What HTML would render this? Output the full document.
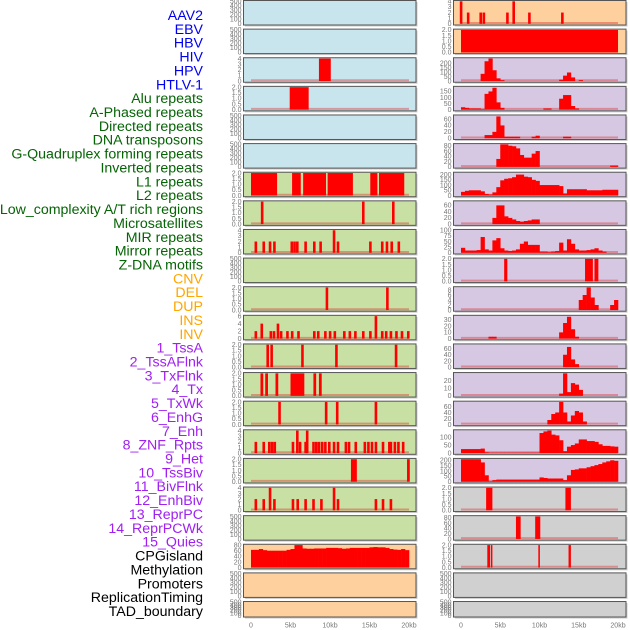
<!DOCTYPE html>
<html><head><meta charset="utf-8"><style>
html,body{margin:0;padding:0;background:#fff;}
svg{display:block;}
.lab{font-family:"Liberation Sans",sans-serif;font-size:14.2px;}
.tk{font-family:"Liberation Sans",sans-serif;font-size:7px;fill:#777;}
</style></head><body>
<svg id="chart" width="630" height="630" viewBox="0 0 630 630"></svg>
<script>
// ---- labels ----
const labelNames = ["AAV2","EBV","HBV","HIV","HPV","HTLV-1","Alu repeats","A-Phased repeats","Directed repeats","DNA transposons","G-Quadruplex forming repeats","Inverted repeats","L1 repeats","L2 repeats","Low_complexity A/T rich regions","Microsatellites","MIR repeats","Mirror repeats","Z-DNA motifs","CNV","DEL","DUP","INS","INV","1_TssA","2_TssAFlnk","3_TxFlnk","4_Tx","5_TxWk","6_EnhG","7_Enh","8_ZNF_Rpts","9_Het","10_TssBiv","11_BivFlnk","12_EnhBiv","13_ReprPC","14_ReprPCWk","15_Quies","CPGisland","Methylation","Promoters","ReplicationTiming","TAD_boundary"];
const labelGroups = [0,0,0,0,0,0,1,1,1,1,1,1,1,1,1,1,1,1,1,2,2,2,2,2,3,3,3,3,3,3,3,3,3,3,3,3,3,3,3,4,4,4,4,4];
const groupColors = ["#0000f0","#056405","#ffa500","#a020f0","#000000"];
const xTickLabels = ["0","5kb","10kb","15kb","20kb"];
const xTickValues = [0,5000,10000,15000,20000];

// ---- tick sets ----
const T500=[0,100,200,300,400,500], T2=["0.0","0.5","1.0","1.5","2.0"], T4=[0,1,2,3,4];

// ---- left column data: blocks [startKb,endKb,value], spikes [kb,value] ----
const L02_blocks=[[8.6,10.1,4]];
const L03_blocks=[[4.9,7.3,2]];
const L06_blocks=[[0,3.3,2],[5.2,6.3,2],[6.6,9.5,2],[9.7,12.9,2],[15.1,16.0,2],[16.2,19.4,2]];
const L07_spikes=[[1.4,2],[14.2,2],[18.0,2]];
const L08_spikes=[[0.6,2],[1.6,2],[2.4,2],[2.95,2],[5.15,2],[5.5,2],[5.85,2],[6.9,2],[8.0,2],[8.8,2],[10.5,4],[11.0,2],[15.1,2],[16.6,2],[17.2,2],[17.8,2],[18.7,2]];
const L10_spikes=[[9.6,2],[17.25,2]];
const L11_spikes=[[0.6,2],[1.35,4],[2.5,2],[2.9,2],[3.4,4],[3.8,2],[4.6,2],[5.2,2],[6.0,2],[8.0,2],[8.5,2],[9.4,2],[10.0,2],[10.6,2],[11.8,2],[12.5,2],[13.2,2],[14.2,2],[15.1,2],[15.8,6],[16.6,2],[17.1,2],[17.7,2],[18.4,2],[19.1,2],[19.9,2]];
const L12_spikes=[[2.1,2],[2.6,2],[6.5,2],[10.8,2],[18.35,2]];
const L13_blocks=[[1.2,1.55,2],[1.8,2.15,2],[3.1,3.45,2],[5.0,6.75,2],[7.9,8.25,2],[8.6,8.95,2]];
const L14_spikes=[[3.6,2],[9.5,2],[10.9,2],[15.8,2]];
const L15_spikes=[[0.6,2],[1.6,2],[2.3,2],[2.65,2],[3.0,2],[5.3,2],[5.85,4],[6.2,2],[6.9,2],[7.1,4],[7.9,2],[8.25,2],[8.6,2],[9.0,2],[9.4,2],[9.9,2],[10.5,2],[11.0,2],[12.0,2],[12.4,2],[13.25,2],[14.4,2],[14.85,2],[15.3,2],[15.8,2],[16.7,2],[17.5,2],[17.7,2],[18.2,2],[18.65,2],[19.25,2]];
const L16_blocks=[[12.65,13.4,2],[19.75,20.1,2]];
const L17_spikes=[[0.6,2],[1.6,2],[2.4,4],[2.95,2],[5.3,2],[5.9,2],[6.9,2],[7.9,2],[8.9,2],[10.5,4],[11.0,2],[15.8,2],[16.7,2],[17.7,2]];
const L19_bins=[63,63,66,62,60,60,60,60,60,63,66,80,80,68,67,67,68,68,68,70,70,70,69,67,68,70,70,70,70,70,72,73,72,72,70,66,64,63,66,62];

// ---- right column data: 40 bins of 0.5kb, or blocks/spikes ----
const R00_spikes=[[0,4],[0.9,2],[2.5,2],[2.9,2],[5.9,2],[6.7,4],[8.7,2],[12.9,2]];
const R01_blocks=[[0,20,2]];
const R02_bins=[0,0,0,0,0,80,220,250,120,30,10,0,0,0,0,0,0,0,0,0,0,0,0,0,0,15,60,95,40,0,10,0,0,0,0,0,0,0,0,0];
const R03_bins=[20,15,10,10,10,5,130,150,180,60,15,0,0,0,0,0,0,0,0,0,0,10,10,0,0,90,120,120,30,10,0,0,0,0,0,0,0,0,0,0];
const R04_bins=[0,0,0,0,0,0,10,10,20,68,40,5,5,5,5,0,0,0,5,8,0,0,0,0,0,0,5,5,0,0,0,0,0,0,0,0,0,0,0,0];
const R05_bins=[0,0,0,0,0,0,0,0,0,30,85,85,80,78,70,45,35,35,50,60,0,0,0,0,0,0,0,0,0,0,0,0,0,0,0,0,0,0,5,5];
const R06_bins=[35,45,50,50,50,40,15,10,30,80,145,160,165,175,200,200,180,175,150,140,100,100,100,100,100,90,20,60,60,60,60,60,50,50,50,50,55,55,55,55];
const R07_bins=[0,0,0,0,0,0,0,0,20,60,60,25,20,15,10,8,10,12,15,15,0,0,0,0,0,0,0,0,0,0,0,0,0,0,0,0,0,0,0,0];
const R08_bins=[22,10,10,10,12,70,15,10,55,65,20,10,8,10,15,40,50,35,35,35,5,5,3,5,8,45,10,60,40,15,10,10,12,15,20,10,5,0,0,0];
const R09_blocks=[[5.5,5.9,2],[15.8,16.8,2],[17.0,17.5,2]];
const R10_bins=[0,0,0,0,0,0,0,0,0,0,0,0,0,0,0,0,0,0,0,0,0,0,0,0,0,0,0,0,0,0,4,6,9,5,2,0,0,0,2,4];
const R11_bins=[0,0,0,0,0,0,0,3,3,0,0,0,0,0,0,0,0,0,0,0,0,0,0,0,0,10,25,35,15,3,0,0,0,0,0,0,0,0,0,0];
const R12_bins=[0,0,0,0,0,0,0,0,0,0,0,0,0,0,0,0,0,0,0,0,0,0,0,0,0,0,40,65,25,10,0,0,0,0,0,0,0,0,0,0];
const R13_bins=[0,0,0,0,0,0,0,0,0,0,0,0,0,0,0,0,0,0,0,0,0,0,0,0,0,3,30,5,17,15,8,0,0,0,0,0,0,0,0,0];
const R14_bins=[0,0,0,0,0,0,0,0,0,0,0,0,0,0,0,0,0,0,0,0,0,0,15,35,40,75,40,10,30,45,40,10,0,0,0,0,0,0,0,0];
const R15_bins=[25,25,25,25,25,28,5,3,3,3,3,3,3,3,3,3,3,3,3,3,125,135,140,115,110,80,12,40,50,60,85,85,75,75,70,55,45,45,42,40];
const R16_bins=[210,210,210,210,210,180,60,5,15,20,20,20,20,20,20,20,20,20,20,20,40,35,30,30,30,30,15,60,110,115,125,125,135,145,155,165,180,190,200,195];
const R17_blocks=[[3.2,4.0,2],[13.3,14.0,2]];
const R18_blocks=[[7.0,7.6,85],[9.45,10.1,85]];
const R19_blocks=[[3.35,3.7,2],[3.8,4.0,2],[9.85,10.05,2],[13.7,14.0,2]];

const BLUE="#c8e4ec",GREEN="#c8e0a4",ORANGE="#fed09e",PURPLE="#d6c8e2",GRAY="#d0d0d0";
const leftPanels=[
 {bg:BLUE,ymax:500,ticks:T500},
 {bg:BLUE,ymax:500,ticks:T500},
 {bg:BLUE,ymax:4,ticks:T4,blocks:L02_blocks},
 {bg:BLUE,ymax:2,ticks:T2,blocks:L03_blocks},
 {bg:BLUE,ymax:500,ticks:T500},
 {bg:BLUE,ymax:500,ticks:T500},
 {bg:GREEN,ymax:2,ticks:T2,blocks:L06_blocks},
 {bg:GREEN,ymax:2,ticks:T2,spikes:L07_spikes},
 {bg:GREEN,ymax:4,ticks:T4,spikes:L08_spikes},
 {bg:GREEN,ymax:500,ticks:T500},
 {bg:GREEN,ymax:2,ticks:T2,spikes:L10_spikes},
 {bg:GREEN,ymax:6,ticks:[0,2,4,6],spikes:L11_spikes},
 {bg:GREEN,ymax:2,ticks:T2,spikes:L12_spikes},
 {bg:GREEN,ymax:2,ticks:T2,blocks:L13_blocks},
 {bg:GREEN,ymax:2,ticks:T2,spikes:L14_spikes},
 {bg:GREEN,ymax:4,ticks:T4,spikes:L15_spikes},
 {bg:GREEN,ymax:2,ticks:T2,blocks:L16_blocks},
 {bg:GREEN,ymax:4,ticks:T4,spikes:L17_spikes},
 {bg:GREEN,ymax:500,ticks:T500},
 {bg:ORANGE,ymax:80,ticks:[0,20,40,60,80],bins:L19_bins},
 {bg:ORANGE,ymax:500,ticks:T500},
 {bg:ORANGE,ymax:500,ticks:T500}
];
const rightPanels=[
 {bg:ORANGE,ymax:4,ticks:T4,spikes:R00_spikes},
 {bg:ORANGE,ymax:2,ticks:T2,blocks:R01_blocks},
 {bg:PURPLE,ymax:250,ticks:[0,50,100,150,200],bins:R02_bins},
 {bg:PURPLE,ymax:185,ticks:[0,50,100,150],bins:R03_bins},
 {bg:PURPLE,ymax:70,ticks:[0,20,40,60],bins:R04_bins},
 {bg:PURPLE,ymax:85,ticks:[0,20,40,60,80],bins:R05_bins},
 {bg:PURPLE,ymax:215,ticks:[0,50,100,150,200],bins:R06_bins},
 {bg:PURPLE,ymax:72,ticks:[0,20,40,60],bins:R07_bins},
 {bg:PURPLE,ymax:100,ticks:[0,25,50,75,100],bins:R08_bins},
 {bg:PURPLE,ymax:2,ticks:T2,blocks:R09_blocks},
 {bg:PURPLE,ymax:9,ticks:[0,2,4,6,8],bins:R10_bins},
 {bg:PURPLE,ymax:36,ticks:[0,10,20,30],bins:R11_bins},
 {bg:PURPLE,ymax:72,ticks:[0,20,40,60],bins:R12_bins},
 {bg:PURPLE,ymax:30,ticks:[0,10,20],bins:R13_bins},
 {bg:PURPLE,ymax:75,ticks:[0,20,40,60],bins:R14_bins},
 {bg:PURPLE,ymax:140,ticks:[0,50,100],bins:R15_bins},
 {bg:PURPLE,ymax:210,ticks:[0,50,100,150,200],bins:R16_bins},
 {bg:GRAY,ymax:2,ticks:T2,blocks:R17_blocks},
 {bg:GRAY,ymax:85,ticks:[0,20,40,60,80],blocks:R18_blocks},
 {bg:GRAY,ymax:2,ticks:T2,blocks:R19_blocks},
 {bg:GRAY,ymax:500,ticks:T500},
 {bg:GRAY,ymax:500,ticks:T500}
];

const NS="http://www.w3.org/2000/svg";
const svg=document.getElementById('chart');
function mk(tag,attrs,parent){const e=document.createElementNS(NS,tag);for(const k in attrs)e.setAttribute(k,attrs[k]);(parent||svg).appendChild(e);return e;}

// labels
labelNames.forEach((n,i)=>{
  const t=mk('text',{x:203,y:15+i*13.86+5,'text-anchor':'end',class:'lab',fill:groupColors[labelGroups[i]]});
  t.textContent=n;
  
  
});

function rowTop(i){return 0.5+28.62*i;}
function rowH(i){return i===21?15.5:24.5;}

function drawPanel(p,i,px0,px1,dx0,dx1,side){
  const top=rowTop(i),h=rowH(i);
  const g=mk('g',{});
  
  
  mk('rect',{x:px0+1.5,y:top+1.5,width:px1-px0,height:h,fill:'#ccc'},g);
  mk('rect',{x:px0,y:top,width:px1-px0,height:h,fill:p.bg,stroke:'#555','stroke-width':1},g);
  const y0=top+h-1.2, y1=top+0.8;
  const ys=v=>y0-(v/p.ymax)*(y0-y1);
  const xs=kb=>dx0+(kb/20)*(dx1-dx0);
  p.ticks.forEach(tv=>{
    const t=mk('text',{x:px0-2,y:ys(parseFloat(tv))+2.3,'text-anchor':'end',class:'tk'},g);
    t.textContent=String(tv);
    
    
  });
  const hasData=p.blocks||p.spikes||p.bins;
  if(hasData){
    const b=mk('line',{x1:xs(0),x2:xs(20),y1:y0-0.8,y2:y0-0.8,stroke:'rgba(220,40,40,0.4)','stroke-width':2},g);
    
    
  }
  if(p.bins){
    p.bins.forEach((v,k)=>{
      if(v<=0)return;
      const r=mk('rect',{x:xs(k*0.5),y:ys(v),width:xs((k+1)*0.5)-xs(k*0.5)+0.3,height:y0-ys(v),fill:'#ff0000'},g);
      
      
    });
  }
  if(p.blocks){
    p.blocks.forEach(bk=>{
      const r=mk('rect',{x:xs(bk[0]),y:ys(bk[2]),width:Math.max(1.5,xs(bk[1])-xs(bk[0])),height:y0-ys(bk[2]),fill:'#ff0000'},g);
      
      
    });
  }
  if(p.spikes){
    p.spikes.forEach(sp=>{
      const r=mk('rect',{x:xs(sp[0])-1.2,y:ys(sp[1]),width:2.6,height:y0-ys(sp[1]),fill:'#ff0000'},g);
      
      
    });
  }
}
leftPanels.forEach((p,i)=>drawPanel(p,i,243.5,416,251,409,'left'));
rightPanels.forEach((p,i)=>drawPanel(p,i,453.5,626,461,618,'right'));

// x axes
[[251,409,'left'],[461,618,'right']].forEach(ax=>{
  xTickValues.forEach((v,k)=>{
    const t=mk('text',{x:ax[0]+(v/20000)*(ax[1]-ax[0]),y:627.5,'text-anchor':'middle',class:'tk'});
    t.textContent=xTickLabels[k];
    
    
  });
});
</script>
</body></html>
